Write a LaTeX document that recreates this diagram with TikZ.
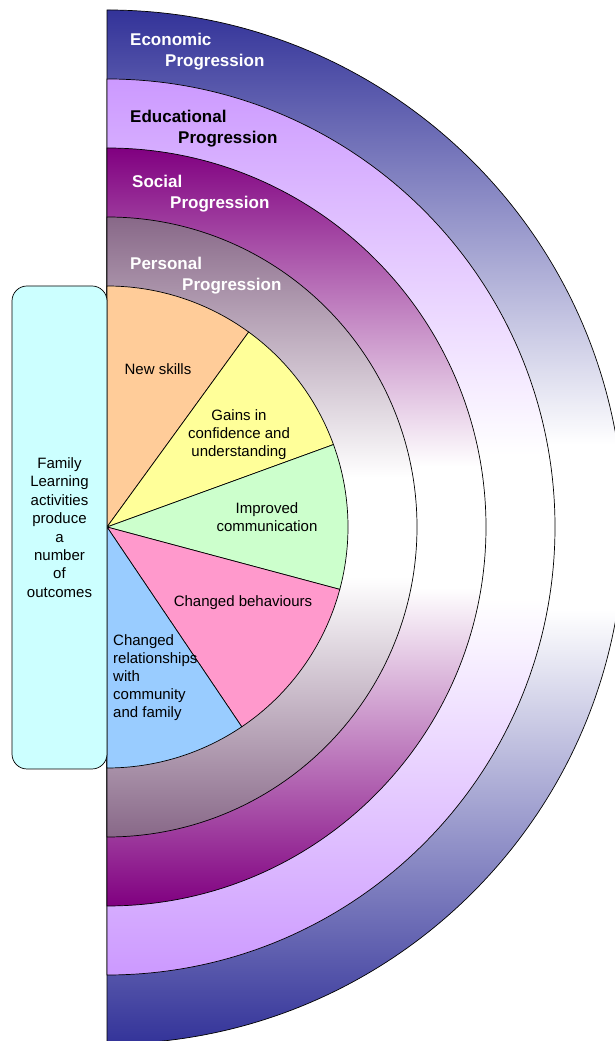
\documentclass[tikz,border=0pt]{standalone}
\usepackage{fontspec}
\setmainfont{Liberation Sans}
\definecolor{econblue}{RGB}{51,51,153}
\definecolor{edulilac}{RGB}{204,153,255}
\definecolor{socplum}{RGB}{128,0,128}
\definecolor{permauve}{RGB}{136,104,136}
\definecolor{skillorange}{RGB}{255,204,153}
\definecolor{gainyellow}{RGB}{255,255,153}
\definecolor{commgreen}{RGB}{204,255,204}
\definecolor{behavpink}{RGB}{255,153,204}
\definecolor{relblue}{RGB}{153,204,255}
\definecolor{boxcyan}{RGB}{204,255,255}
\colorlet{ringcol}{econblue}
\usetikzlibrary{positioning}
\pgfdeclareverticalshading[ringcol]{ringshade}{100bp}{%
  color(0bp)=(ringcol); color(25bp)=(ringcol); color(46bp)=(white);
  color(54bp)=(white); color(75bp)=(ringcol); color(100bp)=(ringcol)}
\tikzset{
  ring/.style={draw=black, line width=0.7pt, shading=ringshade},
  slice/.style={draw=black, line width=0.7pt, fill=#1},
  ringlabel/.style={font=\fontsize{17}{21}\selectfont\bfseries, text=#1,
                    align=left, anchor=west, inner sep=0pt},
  slicelabel/.style={font=\fontsize{15}{18}\selectfont, align=center, inner sep=0pt},
  outbox/.style={draw=black, line width=0.7pt, fill=boxcyan, rounded corners=15pt,
                 minimum width=95pt, minimum height=483pt, align=center,
                 font=\fontsize{15}{18.4}\selectfont},
}

\begin{document}
\begin{tikzpicture}[x=1pt, y=1pt]
\useasboundingbox (0,0) rectangle (615,1041);
\coordinate (O) at (107,514);
% Progression rings, outer to inner
\foreach \r/\col in {517/econblue, 448/edulilac, 379/socplum, 310/permauve}{
  \colorlet{ringcol}{\col}
  \shadedraw[ring] (O) ++(0,\r) arc (90:-90:\r) -- cycle;
}
% Outcome slices
\foreach \a/\b/\col in {90/54/skillorange, 54/20/gainyellow, 20/-15/commgreen,
                        -15/-56/behavpink, -56/-90/relblue}{
  \filldraw[slice=\col] (O) -- ++(\a:241) arc (\a:\b:241) -- cycle;
}
% Ring labels
\node[ringlabel=white] (econ) at (130,989.5) {Economic\\\hspace*{35pt}Progression};
\node[ringlabel=black] (edu) at (130,912.5) {Educational\\\hspace*{48pt}Progression};
\node[ringlabel=white] (soc) at (132,847.5) {Social\\\hspace*{38pt}Progression};
\node[ringlabel=white] (pers) at (130,765.5) {Personal\\\hspace*{52pt}Progression};
% Slice labels
\node[slicelabel] (skills) at (158,672) {New skills};
\node[slicelabel] (gains) at (239,606) {Gains in\\confidence and\\understanding};
\node[slicelabel] (comm) at (267,523.5) {Improved\\communication};
\node[slicelabel] (behav) at (243,438) {Changed behaviours};
\node[slicelabel, align=left, anchor=west] (rel) at (113,363.5)
  {Changed\\relationships\\with\\community\\and family};
% Family Learning box
\node[outbox] (family) at (59.5,513.5)
  {Family\\Learning\\activities\\produce\\a\\number\\of\\outcomes};
\end{tikzpicture}
\end{document}
